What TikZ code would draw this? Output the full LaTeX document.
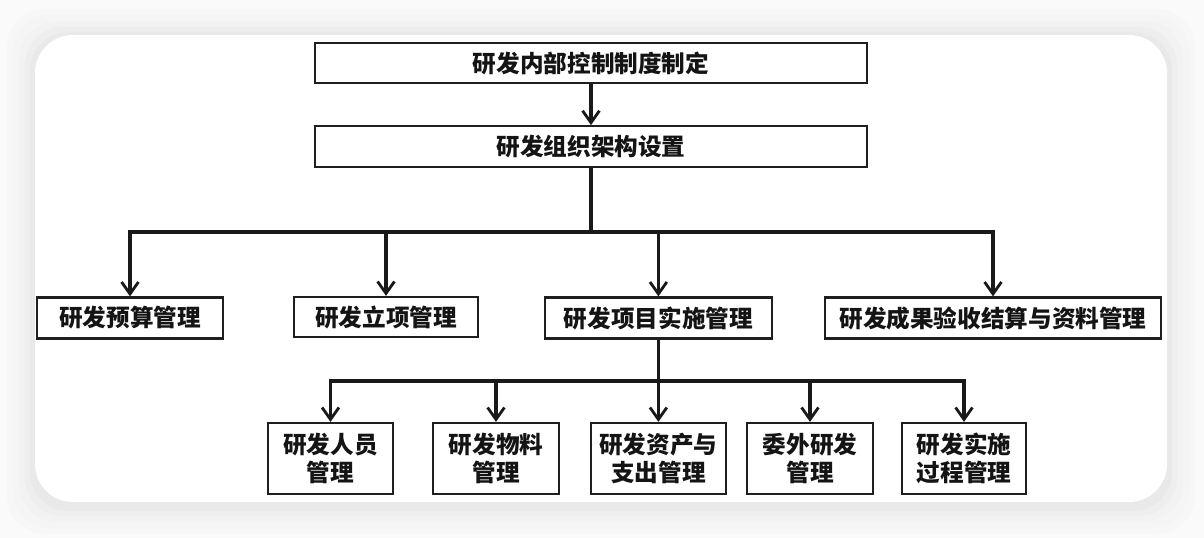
\documentclass[tikz,border=0pt]{standalone}
\usepackage{fontspec}
\newfontfamily\cjk{Noto Sans CJK SC}
\usetikzlibrary{positioning, arrows.meta}

\begin{document}
\begin{tikzpicture}[
    every node/.style={font=\cjk\bfseries\fontsize{16.8pt}{19.9pt}\selectfont, text=black!92},
    box/.style={draw=black!88, line width=1.6pt, fill=white, minimum height=#1, inner sep=0pt, align=center},
    box/.default=1.0cm,
    arrow/.style={-{Straight Barb[length=8.5pt, width=12pt, line width=2pt]}, line width=2.3pt, black!90},
    card/.style={rounded corners=0.95cm},
  ]

  % ---- page and card ----
  \useasboundingbox (0,0) rectangle (30.1,-13.45);
  \fill[gray!4] (0,0) rectangle (30.1,-13.45);
  \foreach \d/\c in {0.7/gray!6, 0.55/gray!8, 0.4/gray!10, 0.25/gray!13, 0.12/gray!17}
    \fill[\c, card] ({0.875-\d},{-0.875+\d-0.05}) rectangle ({29.175+\d},{-12.55-\d-0.1});
  \fill[white, card] (0.875,-0.875) rectangle (29.175,-12.55);

  % ---- top ----
  \node[box, minimum width=13.8cm] (rule) at (14.775,-1.575) {研发内部控制制度制定};
  \node[box=1.025cm, minimum width=13.8cm, below=1.025cm of rule] (org) {研发组织架构设置};

  % ---- second row ----
  \node[box=1.025cm, minimum width=4.65cm] (budget) at (3.25,-7.95) {研发预算管理};
  \node[box=1.0cm, minimum width=4.6cm] (approval) at (9.65,-7.925) {研发立项管理};
  \node[box=1.025cm, minimum width=5.675cm] (impl) at (16.46,-7.95) {研发项目实施管理};
  \node[box=1.025cm, minimum width=8.4cm] (result) at (24.825,-7.95) {研发成果验收结算与资料管理};

  % ---- third row ----
  \node[box=1.775cm, minimum width=3.125cm] (staff) at (8.2625,-11.4625) {研发人员\\管理};
  \node[box=1.775cm, minimum width=3.15cm] (material) at (12.4,-11.4625) {研发物料\\管理};
  \node[box=1.775cm, minimum width=3.375cm] (asset) at (16.46,-11.4625) {研发资产与\\支出管理};
  \node[box=1.775cm, minimum width=3.15cm] (outsrc) at (20.25,-11.4625) {委外研发\\管理};
  \node[box=1.775cm, minimum width=3.1cm] (process) at (24.1,-11.4625) {研发实施\\过程管理};

  % ---- connectors ----
  \coordinate (bus1) at (0,-5.8);
  \coordinate (bus2) at (0,-9.525);
  \draw[arrow] (rule) -- (org);
  \foreach \n in {budget, approval, impl, result}
    \draw[arrow] (org.south) -- (org.south |- bus1) -| (\n.north);
  \foreach \n in {staff, material, asset, outsrc, process}
    \draw[arrow] (impl.south) -- (impl.south |- bus2) -| (\n.north);

\end{tikzpicture}
\end{document}
